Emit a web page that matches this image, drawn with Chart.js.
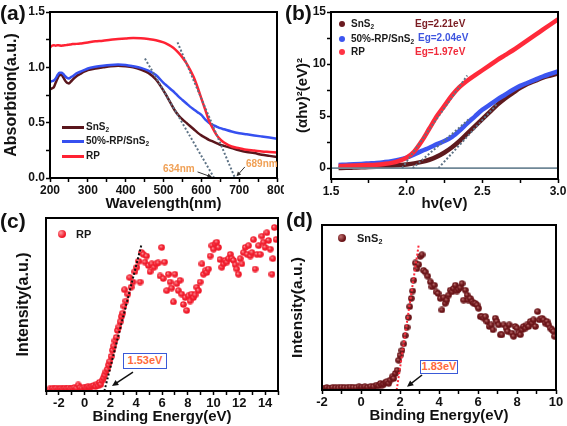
<!DOCTYPE html>
<html><head><meta charset="utf-8">
<script src="https://cdn.jsdelivr.net/npm/chart.js@4.4.0/dist/chart.umd.min.js"></script>
<style>
body{margin:0;background:#fff;}
#page{position:relative;width:567px;height:426px;overflow:hidden;font-family:"Liberation Sans",Arial,Helvetica,sans-serif;font-weight:bold;color:#1a1a1a;}
.pane{position:absolute;}
.pane canvas{display:block;}
.t{position:absolute;white-space:nowrap;line-height:12px;height:12px;font-size:10px;}
.lab{position:absolute;font-size:21px;line-height:22px;white-space:nowrap;color:#111;}
sub{font-size:65%;vertical-align:-2px;line-height:0;}
.ln{position:absolute;height:3px;}
.dot{position:absolute;border-radius:50%;}
.box{position:absolute;border:1.5px solid #3a5ad8;box-sizing:border-box;text-align:center;font-size:11px;color:#ff6a3a;background:#fff;}
</style></head>
<body><div id="page">
<div class="pane" style="left:0;top:0"><canvas id="ca" width="284" height="213"></canvas></div>
<div class="pane" style="left:284px;top:0"><canvas id="cb" width="283" height="213"></canvas></div>
<div class="pane" style="left:0;top:213px"><canvas id="cc" width="284" height="213"></canvas></div>
<div class="pane" style="left:284px;top:213px"><canvas id="cd" width="283" height="213"></canvas></div>

<div class="lab" style="left:0;top:2px">(a)</div>
<div class="lab" style="left:285px;top:2px">(b)</div>
<div class="lab" style="left:0;top:210px">(c)</div>
<div class="lab" style="left:286px;top:209px">(d)</div>

<!-- legend a -->
<div class="ln" style="left:62px;top:126px;width:22px;background:#5a161c"></div>
<div class="t" style="left:86px;top:121px">SnS<sub>2</sub></div>
<div class="ln" style="left:62px;top:140px;width:22px;background:#3650f0"></div>
<div class="t" style="left:86px;top:135px">50%-RP/SnS<sub>2</sub></div>
<div class="ln" style="left:62px;top:155px;width:22px;background:#ff2233"></div>
<div class="t" style="left:86px;top:150px">RP</div>
<div class="t" style="left:163px;top:163px;color:#f0a055">634nm</div>
<div class="t" style="left:246px;top:158px;color:#f0a055">689nm</div>

<!-- legend b -->
<div class="dot" style="left:339px;top:21px;width:6px;height:6px;background:#6a1a20"></div>
<div class="t" style="left:351px;top:18px">SnS<sub>2</sub></div>
<div class="dot" style="left:339px;top:36px;width:6px;height:6px;background:#3c55f0"></div>
<div class="t" style="left:351px;top:33px">50%-RP/SnS<sub>2</sub></div>
<div class="dot" style="left:339px;top:49px;width:6px;height:6px;background:#ff3344"></div>
<div class="t" style="left:351px;top:46px">RP</div>
<div class="t" style="left:415px;top:18px;color:#7a1c22">Eg=2.21eV</div>
<div class="t" style="left:418px;top:32px;color:#3e55e0">Eg=2.04eV</div>
<div class="t" style="left:415px;top:46px;color:#f02a3a">Eg=1.97eV</div>

<!-- legend c -->
<div class="dot" style="left:58px;top:230px;width:8px;height:8px;background:radial-gradient(circle at 35% 35%,#ff9aa0,#f01c2c 60%)"></div>
<div class="t" style="left:76px;top:228px;font-size:11px">RP</div>
<div class="box" style="left:123px;top:353px;width:44px;height:16px;line-height:13px">1.53eV</div>

<!-- legend d -->
<div class="dot" style="left:338px;top:234px;width:8px;height:8px;background:radial-gradient(circle at 35% 35%,#c07070,#6a1418 60%)"></div>
<div class="t" style="left:357px;top:232px;font-size:11px">SnS<sub>2</sub></div>
<div class="box" style="left:420px;top:360px;width:38px;height:14px;line-height:11px">1.83eV</div>
</div>

<script>
// ---------- Panel (a): absorption spectra ----------
const aWavelength = [200,205,210,215,220,225,230,235,240,245,250,255,260,270,280,290,300,320,340,360,380,400,420,440,460,480,500,510,520,530,540,550,560,570,580,590,600,610,620,630,640,650,660,680,700,720,740,760,780,800];
const aSnS2 = [0.80,0.81,0.82,0.86,0.90,0.93,0.93,0.91,0.88,0.86,0.855,0.87,0.89,0.92,0.94,0.96,0.975,0.99,1.00,1.01,1.015,1.01,1.0,0.98,0.95,0.89,0.79,0.73,0.67,0.61,0.565,0.53,0.50,0.47,0.44,0.41,0.385,0.365,0.345,0.33,0.315,0.30,0.29,0.27,0.25,0.235,0.225,0.21,0.20,0.19];
const aMix = [0.87,0.875,0.88,0.90,0.93,0.95,0.95,0.94,0.92,0.905,0.90,0.91,0.92,0.945,0.96,0.975,0.99,1.005,1.015,1.022,1.025,1.022,1.01,0.995,0.97,0.93,0.86,0.83,0.80,0.77,0.735,0.705,0.675,0.645,0.62,0.595,0.57,0.53,0.50,0.48,0.465,0.45,0.44,0.42,0.405,0.395,0.385,0.375,0.365,0.355];
const aRP = [1.18,1.195,1.20,1.195,1.20,1.198,1.195,1.198,1.20,1.202,1.205,1.207,1.21,1.212,1.215,1.22,1.225,1.235,1.24,1.25,1.255,1.26,1.265,1.262,1.255,1.245,1.225,1.21,1.19,1.165,1.13,1.09,1.04,0.98,0.91,0.82,0.72,0.62,0.52,0.45,0.39,0.35,0.32,0.285,0.27,0.255,0.248,0.24,0.235,0.23];
const aTangentSnS2X = [451,634], aTangentSnS2Y = [1.08,0];
const aTangentRPX = [537,689], aTangentRPY = [1.226,0];

// ---------- Panel (b): Tauc plot ----------
const bEnergy = [1.55,1.6,1.65,1.7,1.75,1.8,1.85,1.9,1.95,2.0,2.05,2.1,2.15,2.2,2.25,2.3,2.35,2.4,2.45,2.5,2.55,2.6,2.65,2.7,2.75,2.8,2.85,2.9,2.95,3.0];
const bRP = [0.2,0.22,0.24,0.26,0.29,0.33,0.4,0.5,0.7,1.0,1.6,2.6,3.8,5.0,6.0,7.0,7.8,8.4,8.9,9.4,9.9,10.4,10.85,11.3,11.8,12.3,12.8,13.3,13.8,14.3];
const bMix = [0.3,0.33,0.36,0.4,0.45,0.5,0.57,0.66,0.8,1.0,1.3,1.65,1.95,2.3,2.6,3.0,3.6,4.3,4.95,5.6,6.1,6.6,7.05,7.5,7.9,8.2,8.5,8.8,9.05,9.3];
const bSnS2 = [0.0,0.02,0.05,0.08,0.1,0.13,0.17,0.22,0.28,0.35,0.45,0.6,0.8,1.1,1.5,2.0,2.6,3.3,4.0,4.7,5.4,6.1,6.7,7.2,7.7,8.1,8.4,8.7,8.9,9.1];
const bTanRPX = [1.97,2.4], bTanRPY = [0,8.9];
const bTanMixX = [2.04,2.42], bTanMixY = [0,4.8];
const bTanSnS2X = [2.21,2.6], bTanSnS2Y = [0,6.2];
const bZeroX = [1.5,3.0], bZeroY = [0,0];

// ---------- Panel (c): RP valence band ----------
const cEnergy = [-2.7,-2.5,-2.35,-2.2,-2.0,-1.85,-1.7,-1.55,-1.4,-1.25,-1.1,-0.95,-0.8,-0.65,-0.5,-0.35,-0.2,-0.05,0.1,0.25,0.4,0.55,0.7,0.85,0.95,1.05,1.15,1.25,1.35,1.45,1.55,1.65,1.75,1.85,1.95,2.05,2.15,2.25,2.35,2.45,2.55,2.65,2.75,2.85,2.95,3.05,3.1,3.2,3.35,3.5,3.6,3.75,3.9,4.05,4.2,4.3,4.42,4.55,4.68,4.8,4.95,5.07,5.2,5.38,5.55,5.7,5.85,5.98,6.1,6.2,6.37,6.5,6.63,6.75,6.89,7.0,7.15,7.27,7.4,7.53,7.66,7.8,7.92,8.05,8.18,8.3,8.44,8.57,8.7,8.83,8.96,9.1,9.22,9.35,9.48,9.6,9.74,9.87,10.0,10.12,10.25,10.38,10.5,10.64,10.77,10.9,11.03,11.16,11.3,11.42,11.55,11.68,11.8,11.94,12.07,12.2,12.33,12.46,12.6,12.72,12.85,12.98,13.1,13.23,13.36,13.5,13.62,13.75,13.88,14.0,14.14,14.27,14.4,14.53,14.6,14.72,14.85];
const cIntensity = [0.012,0.015,0.012,0.016,0.013,0.015,0.012,0.016,0.014,0.017,0.013,0.016,0.02,0.017,0.035,0.02,0.016,0.022,0.018,0.024,0.021,0.028,0.032,0.026,0.04,0.03,0.05,0.038,0.06,0.075,0.092,0.11,0.125,0.15,0.17,0.2,0.235,0.26,0.29,0.31,0.35,0.37,0.4,0.43,0.45,0.49,0.585,0.52,0.56,0.655,0.6,0.63,0.69,0.715,0.75,0.63,0.8,0.79,0.745,0.78,0.725,0.69,0.735,0.715,0.735,0.74,0.665,0.83,0.65,0.745,0.58,0.675,0.63,0.595,0.515,0.675,0.62,0.58,0.64,0.56,0.5,0.54,0.465,0.55,0.52,0.56,0.54,0.555,0.6,0.58,0.63,0.735,0.675,0.695,0.685,0.705,0.78,0.84,0.82,0.85,0.86,0.83,0.76,0.715,0.735,0.755,0.745,0.765,0.79,0.765,0.755,0.73,0.705,0.675,0.765,0.735,0.8,0.83,0.79,0.84,0.78,0.8,0.875,0.705,0.79,0.84,0.79,0.895,0.86,0.83,0.915,0.87,0.82,0.675,0.765,0.945,0.875];
const cTanX = [1.53,4.42], cTanY = [0,0.85];

// ---------- Panel (d): SnS2 valence band ----------
const dEnergy = [-1.9,-1.75,-1.6,-1.45,-1.3,-1.15,-1.0,-0.85,-0.7,-0.55,-0.4,-0.25,-0.1,0.05,0.2,0.35,0.5,0.65,0.8,0.9,1.0,1.08,1.16,1.25,1.33,1.42,1.5,1.6,1.68,1.76,1.85,1.93,2.0,2.1,2.19,2.27,2.36,2.44,2.5,2.58,2.65,2.7,2.79,2.87,2.96,3.04,3.13,3.21,3.3,3.42,3.56,3.64,3.76,3.85,3.95,4.07,4.15,4.24,4.32,4.4,4.5,4.58,4.67,4.75,4.84,4.92,5.0,5.09,5.18,5.26,5.35,5.44,5.5,5.6,5.7,5.78,5.86,5.95,6.03,6.12,6.2,6.3,6.38,6.46,6.58,6.68,6.77,6.89,6.97,7.06,7.15,7.23,7.32,7.44,7.52,7.6,7.74,7.83,7.91,8.0,8.08,8.17,8.26,8.34,8.43,8.51,8.6,8.68,8.77,8.85,8.94,9.06,9.15,9.28,9.37,9.45,9.54,9.62,9.7,9.8,9.88,9.93];
const dIntensity = [0.012,0.015,0.012,0.016,0.014,0.013,0.017,0.015,0.014,0.018,0.016,0.015,0.02,0.018,0.02,0.016,0.022,0.02,0.03,0.025,0.04,0.03,0.035,0.045,0.05,0.04,0.06,0.08,0.07,0.1,0.12,0.18,0.21,0.24,0.28,0.33,0.38,0.44,0.505,0.555,0.6,0.665,0.77,0.735,0.76,0.81,0.82,0.725,0.715,0.69,0.655,0.625,0.635,0.595,0.585,0.555,0.485,0.56,0.525,0.545,0.575,0.605,0.595,0.615,0.635,0.6,0.61,0.62,0.645,0.545,0.605,0.575,0.545,0.555,0.535,0.525,0.525,0.515,0.495,0.445,0.445,0.435,0.445,0.415,0.385,0.395,0.365,0.435,0.415,0.395,0.335,0.335,0.395,0.375,0.355,0.395,0.345,0.325,0.385,0.375,0.345,0.335,0.365,0.385,0.375,0.395,0.385,0.415,0.405,0.425,0.385,0.475,0.425,0.435,0.425,0.405,0.415,0.395,0.375,0.365,0.355,0.325];
const dTanX = [1.83,2.96], dTanY = [0,0.88];

// ---------- helpers ----------
const FONT = '"Liberation Sans", Arial, Helvetica, sans-serif';
const pts = (xs, ys) => xs.map((x, i) => ({x, y: ys[i]}));

function sphere(base, light, d){
  const c = document.createElement('canvas'); c.width = c.height = d;
  const g = c.getContext('2d');
  const grd = g.createRadialGradient(d*0.36, d*0.34, 0, d/2, d/2, d/2);
  grd.addColorStop(0, light); grd.addColorStop(0.55, base); grd.addColorStop(1, base);
  g.fillStyle = grd; g.beginPath(); g.arc(d/2, d/2, d/2 - 0.2, 0, Math.PI*2); g.fill();
  return c;
}

const framePlugin = {id:'frame', afterDraw(chart){
  const {ctx, chartArea:a} = chart;
  ctx.save(); ctx.strokeStyle = '#000'; ctx.lineWidth = 2;
  ctx.strokeRect(a.left, a.top, a.right - a.left, a.bottom - a.top); ctx.restore();
}};
const arrowPlugin = {id:'arrows', afterDatasetsDraw(chart, args, opts){
  const items = (opts && opts.items) || [];
  const {ctx} = chart; const xs = chart.scales.x, ys = chart.scales.y;
  items.forEach(it => {
    const x1 = xs.getPixelForValue(it.from[0]), y1 = ys.getPixelForValue(it.from[1]);
    const x2 = xs.getPixelForValue(it.to[0]), y2 = ys.getPixelForValue(it.to[1]);
    const ang = Math.atan2(y2 - y1, x2 - x1), h = it.head || 5;
    ctx.save(); ctx.strokeStyle = ctx.fillStyle = it.color || '#000'; ctx.lineWidth = it.w || 1;
    ctx.beginPath(); ctx.moveTo(x1, y1); ctx.lineTo(x2 - Math.cos(ang)*h*0.6, y2 - Math.sin(ang)*h*0.6); ctx.stroke();
    ctx.beginPath(); ctx.moveTo(x2, y2);
    ctx.lineTo(x2 - h*Math.cos(ang - 0.45), y2 - h*Math.sin(ang - 0.45));
    ctx.lineTo(x2 - h*Math.cos(ang + 0.45), y2 - h*Math.sin(ang + 0.45));
    ctx.closePath(); ctx.fill(); ctx.restore();
  });
}};

function xAxis(o){
  return {
    type:'linear', position:'bottom', min:o.min, max:o.max,
    border:{display:false},
    grid:{drawOnChartArea:false, drawTicks:true, tickLength:4, tickWidth:1.5, tickColor:'#000'},
    ticks:{stepSize:o.step, autoSkip:false, maxRotation:0, minRotation:0, includeBounds:false, padding:o.pad ?? 1,
      color:'#111', font:{family:FONT, size:o.fs || 12, weight:'bold'}, callback:o.cb},
    title:{display:true, text:o.title, color:'#111', font:{family:FONT, size:o.tfs || 15, weight:'bold'}, padding:{top:0, bottom:o.tpad}},
    afterFit(s){ s.height = o.h; s.paddingLeft = 0; s.paddingRight = 0; }
  };
}
function yAxis(o){
  return {
    type:'linear', position:'left', min:o.min, max:o.max,
    border:{display:false},
    grid:{drawOnChartArea:false, drawTicks:o.ticks !== false, tickLength:4, tickWidth:1.5, tickColor:'#000'},
    ticks:{display:o.ticks !== false, stepSize:o.step, autoSkip:false, includeBounds:false, padding:1,
      color:'#111', font:{family:FONT, size:o.fs || 12, weight:'bold'}, callback:o.cb},
    title:{display:true, text:o.title, color:'#111', font:{family:FONT, size:o.tfs || 15, weight:'bold'}, padding:{top:o.tpad, bottom:0}},
    afterFit(s){ s.width = o.w; s.paddingTop = 0; s.paddingBottom = 0; }
  };
}
function baseOpts(padding, scales, arrows){
  return {responsive:false, animation:false, devicePixelRatio:1,
    layout:{padding},
    plugins:{legend:{display:false}, tooltip:{enabled:false}, arrows:{items:arrows || []}},
    scales};
}
const isMult = (v, m) => Math.abs(v/m - Math.round(v/m)) < 1e-6;
const lineDs = (data, color, w, order, dash) => ({type:'line', data, borderColor:color, borderWidth:w, pointRadius:0,
  borderDash:dash || [], cubicInterpolationMode:'monotone', fill:false, order});
const TAN = '#5d7285';

// ---------- chart (a) ----------
new Chart(document.getElementById('ca'), {
  type:'line',
  data:{datasets:[
    lineDs(pts(aTangentSnS2X, aTangentSnS2Y), TAN, 2, 0, [2,2]),
    lineDs(pts(aTangentRPX, aTangentRPY), TAN, 2, 0, [2,2]),
    lineDs(pts(aWavelength, aRP), '#ff2233', 2.5, 1),
    lineDs(pts(aWavelength, aMix), '#3650f0', 2.5, 2),
    lineDs(pts(aWavelength, aSnS2), '#5a161c', 2.5, 3)
  ]},
  options: baseOpts({left:0, top:12, right:7, bottom:0}, {
    x: xAxis({min:200, max:800, step:50, h:35, tpad:0, title:'Wavelength(nm)', cb:v => isMult(v,100) ? String(v) : ''}),
    y: yAxis({min:0, max:1.5, step:0.25, w:50, tpad:2.4, tfs:16, title:'Absorbtion(a.u.)', cb:v => isMult(v,0.5) ? v.toFixed(1) : ''})
  }, [{from:[590,0.055], to:[628,0.008], color:'#333', w:1, head:5}, {from:[715,0.10], to:[693,0.015], color:'#333', w:1, head:5}]),
  plugins:[framePlugin, arrowPlugin]
});

// ---------- chart (b) ----------
new Chart(document.getElementById('cb'), {
  type:'line',
  data:{datasets:[
    lineDs(pts(bTanRPX, bTanRPY), TAN, 2, 0, [2,2]),
    lineDs(pts(bTanMixX, bTanMixY), TAN, 2, 0, [2,2]),
    lineDs(pts(bTanSnS2X, bTanSnS2Y), TAN, 2, 0, [2,2]),
    lineDs(pts(bZeroX, bZeroY), '#6f8796', 1.8, 1),
    lineDs(pts(bEnergy, bRP), '#ff2a3a', 4.5, 2),
    lineDs(pts(bEnergy, bMix), '#3c55f0', 4.5, 3),
    lineDs(pts(bEnergy, bSnS2), '#5e1a1e', 4.5, 4)
  ]},
  options: baseOpts({left:0, top:12, right:9, bottom:0}, {
    x: xAxis({min:1.5, max:3.0, step:0.25, h:34, tpad:0, title:'hν(eV)', cb:v => isMult(v,0.5) ? v.toFixed(1) : ''}),
    y: yAxis({min:-1.05, max:15, step:2.5, w:47, tpad:10, title:'(αhν)²(eV)²', cb:v => isMult(v,5) ? String(v) : ''})
  }),
  plugins:[framePlugin, arrowPlugin]
});

// ---------- chart (c) ----------
new Chart(document.getElementById('cc'), {
  type:'scatter',
  data:{datasets:[
    {type:'line', data:pts(cTanX, cTanY), borderColor:'#111', borderWidth:2, borderDash:[2,2], pointRadius:0, order:0},
    {data:pts(cEnergy, cIntensity), pointStyle:sphere('#f01c2c', '#ff9aa0', 7), order:1}
  ]},
  options: baseOpts({left:0, top:4, right:6, bottom:0}, {
    x: xAxis({min:-3, max:15, step:1, h:35, tpad:0, fs:13, title:'Binding Energy(eV)', cb:v => isMult(v,2) ? String(v) : ''}),
    y: yAxis({min:0, max:1, w:46, tpad:14.4, tfs:16, ticks:false, title:'Intensity(a.u.)'})
  }, [{from:[3.75,0.109], to:[2.12,0.029], color:'#111', w:1.5, head:7}]),
  plugins:[framePlugin, arrowPlugin]
});

// ---------- chart (d) ----------
new Chart(document.getElementById('cd'), {
  type:'scatter',
  data:{datasets:[
    {type:'line', data:pts(dTanX, dTanY), borderColor:'#ff2a3a', borderWidth:2, borderDash:[2,2], pointRadius:0, order:0},
    {data:pts(dEnergy, dIntensity), pointStyle:sphere('#6a1418', '#c07070', 7), order:1}
  ]},
  options: baseOpts({left:0, top:12, right:11, bottom:0}, {
    x: xAxis({min:-2, max:10, step:1, h:36, tpad:1, fs:13, title:'Binding Energy(eV)', cb:v => isMult(v,2) ? String(v) : ''}),
    y: yAxis({min:0, max:1, w:38, tpad:4.7, tfs:15.5, ticks:false, title:'Intensity(a.u.)'})
  }, [{from:[3.13,0.091], to:[2.36,0.02], color:'#111', w:1.5, head:7}]),
  plugins:[framePlugin, arrowPlugin]
});
</script>
</body></html>
